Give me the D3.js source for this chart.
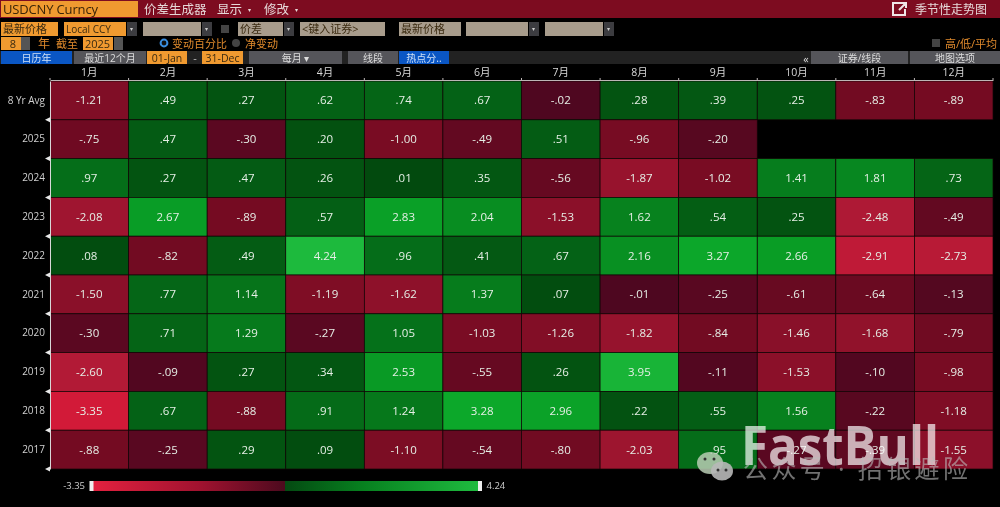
<!DOCTYPE html>
<html><head><meta charset="utf-8">
<script src="https://cdn.jsdelivr.net/npm/d3@7"></script>
<style>
html,body{margin:0;padding:0;background:#000;overflow:hidden}
svg{display:block;filter:blur(.4px)}
text{font-family:"Open Sans","Noto Sans CJK SC",sans-serif}
</style></head><body><svg id="c" width="1000" height="507"></svg>
<script>
const months=["1月","2月","3月","4月","5月","6月","7月","8月","9月","10月","11月","12月"];
const rows=["8 Yr Avg","2025","2024","2023","2022","2021","2020","2019","2018","2017"];
const avg=[-1.21,.49,.27,.62,.74,.67,-.02,.28,.39,.25,-.83,-.89];
const y2025=[-.75,.47,-.30,.20,-1.00,-.49,.51,-.96,-.20,null,null,null];
const y2024=[.97,.27,.47,.26,.01,.35,-.56,-1.87,-1.02,1.41,1.81,.73];
const y2023=[-2.08,2.67,-.89,.57,2.83,2.04,-1.53,1.62,.54,.25,-2.48,-.49];
const y2022=[.08,-.82,.49,4.24,.96,.41,.67,2.16,3.27,2.66,-2.91,-2.73];
const y2021=[-1.50,.77,1.14,-1.19,-1.62,1.37,.07,-.01,-.25,-.61,-.64,-.13];
const y2020=[-.30,.71,1.29,-.27,1.05,-1.03,-1.26,-1.82,-.84,-1.46,-1.68,-.79];
const y2019=[-2.60,-.09,.27,.34,2.53,-.55,.26,3.95,-.11,-1.53,-.10,-.98];
const y2018=[-3.35,.67,-.88,.91,1.24,3.28,2.96,.22,.55,1.56,-.22,-1.18];
const y2017=[-.88,-.25,.29,.09,-1.10,-.54,-.80,-2.03,.95,-.27,-.39,-1.55];
const table=[avg,y2025,y2024,y2023,y2022,y2021,y2020,y2019,y2018,y2017];
const colorStops=[-3.35,-2.6,-1.5,-.9,0,0,.5,1.3,2.6,3.3,4.24];
const colorRange=["#d21a38","#b21a36","#8a1029","#750b22","#4e0720","#024a0e","#045c14","#067a1c","#099c25","#0ca82a","#1dba3d"];

const svg=d3.select("#c");
const rect=(x,y,w,h,f)=>svg.append("rect").attr("x",x).attr("y",y).attr("width",w).attr("height",h).attr("fill",f);
const txt=(x,y,s,f,size,anchor)=>svg.append("text").attr("x",x).attr("y",y).attr("fill",f).attr("font-size",size).attr("text-anchor",anchor||"start").text(s);
const OR="#f09a30", GR="#a89c8c", DK="#55555a", BL="#0a56c4", AM="#e08a2c", TX="#3a2a10";

rect(0,0,1000,507,"#000");
// title bar
rect(0,0,1000,18,"#7d0c20");
rect(1,1,137,16,OR);
txt(3,14,"USDCNY Curncy","#3a2508",13).attr("textLength",95);
txt(144,14,"价差生成器","#e6d8d8",12.5);
txt(217,14,"显示","#e6d8d8",12.5);txt(248,12,"▾","#e6d8d8",6);
txt(264,14,"修改","#e6d8d8",12.5);txt(295,12,"▾","#e6d8d8",6);
txt(915,14,"季节性走势图","#e6d8d8",12);
svg.append("path").attr("d","M904 3H893V15H905V9M899 10L906 3M901 3H906V8").attr("fill","none").attr("stroke","#f0e6e6").attr("stroke-width",2);

// row 2
[[1,57,OR,"最新价格",TX],[64,62,OR,"Local CCY",TX],[143,58,GR,"",TX],[238,45,GR,"价差",TX],[300,85,GR,"<键入证券>",TX],[399,62,GR,"最新价格",TX],[466,62,GR,"",TX],[545,58,GR,"",TX]]
 .forEach(d=>{rect(d[0],22,d[1],14,d[2]);txt(d[0]+2,33,d[3],d[4],d[3]==="Local CCY"?10:11);});
[127,202,284,529,604].forEach(x=>{rect(x,22,10,14,"#3c3c40");txt(x+2.5,31,"▾","#ccc",6);});
rect(221,25,8,8,"#444");
// row 3
rect(1,37,20,13,OR);txt(16,48,"8",TX,11,"end");rect(21,37,9,13,"#555");
txt(38,48,"年",AM,12);txt(56,48,"截至",AM,11);
rect(83,37,30,13,OR);txt(85,48,"2025",TX,11);rect(114,37,9,13,"#555");
svg.append("circle").attr("cx",164).attr("cy",43).attr("r",3.4).attr("fill","#111").attr("stroke","#3a8ee0").attr("stroke-width",2);
txt(172,48,"变动百分比",AM,11);
svg.append("circle").attr("cx",236).attr("cy",43).attr("r",4).attr("fill","#444");
txt(245,48,"净变动",AM,11);
rect(932,39,8,8,"#444");txt(945,48,"高/低/平均",AM,11);
// row 4
rect(0,51,1000,13,"#222");
[[1,71,BL,"日历年","#cfe0f5"],[74,72,DK,"最近12个月","#ddd"],[249,93,DK,"每月 ▾","#ddd"],[348,50,DK,"线段","#ddd"],[399,50,BL,"热点分..","#cfe0f5"],[811,97,DK,"证券/线段","#ddd"],[910,90,DK,"地图选项","#ddd"]]
 .forEach(d=>{rect(d[0],51,d[1],13,d[2]);txt(d[0]+d[1]/2,61.5,d[3],d[4],10,"middle");});
[[147,40,"01-Jan"],[202,41,"31-Dec"]].forEach(d=>{rect(d[0],51,d[1],13,OR);txt(d[0]+d[1]/2,62,d[2],TX,10.5,"middle");});
txt(195,62,"-","#bbb",11,"middle");
txt(806,63,"«","#ddd",11,"middle");

// heatmap
const x=d3.scaleBand().domain(months).range([50,993]);
const y=d3.scaleBand().domain(rows).range([81,469]);
const color=d3.scaleLinear().domain(colorStops).range(colorRange).clamp(true);
const fmt=v=>d3.format(".2f")(v).replace("−","-").replace(/^(-?)0\./,"$1.");
const cells=table.flatMap((r,i)=>r.map((v,j)=>({row:rows[i],m:months[j],v})).filter(d=>d.v!==null));
svg.append("g").selectAll("rect").data(cells).join("rect")
 .attr("x",d=>x(d.m)).attr("y",d=>y(d.row)).attr("width",x.bandwidth()).attr("height",y.bandwidth())
 .attr("fill",d=>color(d.v)).attr("stroke","#120606").attr("stroke-width",.7);
svg.append("g").selectAll("text").data(cells).join("text")
 .attr("x",d=>x(d.m)+x.bandwidth()/2).attr("y",d=>y(d.row)+y.bandwidth()/2+4)
 .attr("text-anchor","middle").attr("font-size",11.5).attr("fill","#e6efe6").text(d=>fmt(d.v));

// axes
const ax=svg.append("g").attr("transform","translate(0,80)").call(d3.axisTop(x).tickSize(0).tickPadding(4));
ax.select(".domain").attr("stroke","#bdb6b6").attr("stroke-width",1.2);
ax.selectAll("text").attr("fill","#d8d8d8").attr("font-size",10.5).attr("font-family",'"Open Sans","Noto Sans CJK SC",sans-serif');
svg.append("g").selectAll("line").data(months.concat(["end"])).join("line")
 .attr("x1",d=>d==="end"?993:x(d)).attr("x2",d=>d==="end"?993:x(d)).attr("y1",78).attr("y2",80).attr("stroke","#bdb6b6");
const ay=svg.append("g").attr("transform","translate(50,0)").call(d3.axisLeft(y).tickSize(0).tickPadding(5));
ay.select(".domain").attr("stroke","#d8d8d8").attr("stroke-width",1);
ay.selectAll("text").attr("fill","#d0d0d0").attr("font-size",10).attr("font-family",'"Open Sans","Noto Sans CJK SC",sans-serif');
svg.append("g").selectAll("path").data(rows).join("path")
 .attr("d",d=>{const p=y(d)+y.bandwidth();return `M50 ${p-2.5}L45 ${p}L50 ${p+2.5}Z`;}).attr("fill","#e8e8e8");

// legend
const grad=svg.append("defs").append("linearGradient").attr("id","lg");
const lx=d3.scaleLinear().domain([-3.35,4.24]).range([93,478]);
const legendOffsets=[[0,"#e3213f"],[.28,"#a0122f"],[.499,"#4c0a1e"],[.5,"#044a12"],[.7,"#07801f"],[1,"#1fbb3f"]];
grad.selectAll("stop").data(legendOffsets).join("stop").attr("offset",d=>d[0]).attr("stop-color",d=>d[1]);
rect(lx(-3.35),481,lx(4.24)-lx(-3.35),10,"url(#lg)");
rect(89.5,481,4,10,"#eee");rect(478,481,4,10,"#eee");
txt(85,488.5,"-3.35","#ccc",9.5,"end");txt(486.5,488.5,"4.24","#ccc",9.5);

// watermark
txt(741,465,"FastBull","#ffffff",53).attr("font-weight","bold").attr("opacity",.68).attr("textLength",198).attr("lengthAdjust","spacingAndGlyphs");
txt(743,478,"公众号 · 招银避险","#bdbdbd",25).attr("opacity",.6).attr("textLength",225);
svg.append("ellipse").attr("cx",710).attr("cy",463).attr("rx",13).attr("ry",11).attr("fill","#b9cdb4").attr("opacity",.85);
svg.append("ellipse").attr("cx",722).attr("cy",471).attr("rx",11).attr("ry",9.5).attr("fill","#b8b8b8").attr("opacity",.9);
[[705,459],[714,459],[718,470],[726,470]].forEach(d=>svg.append("circle").attr("cx",d[0]).attr("cy",d[1]).attr("r",1.5).attr("fill","#333"));
</script></body></html>
